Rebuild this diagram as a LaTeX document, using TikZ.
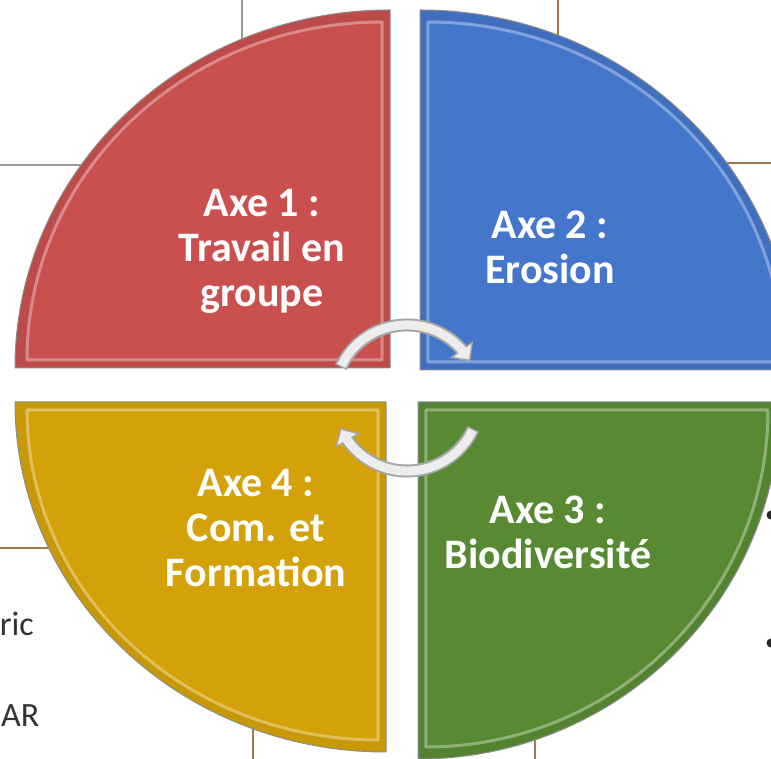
\documentclass[tikz,border=0pt]{standalone}
\usepackage{fontspec}
\setmainfont{Carlito}
\usetikzlibrary{arrows.meta,bending}

\definecolor{axered}{RGB}{201,80,78}
\definecolor{axeblue}{RGB}{68,118,204}
\definecolor{axegreen}{RGB}{88,138,52}
\definecolor{axegold}{RGB}{212,162,8}
\definecolor{gridgray}{RGB}{150,150,150}
\definecolor{gridbrown}{RGB}{165,120,75}

\tikzset{
  axelabel/.style={text=white, align=center, inner sep=0pt,
    font=\bfseries\fontsize{42}{45}\selectfont},
  sidetext/.style={text=black!80, inner sep=0pt,
    font=\fontsize{34}{40}\selectfont},
  gridline/.style={line width=1.2pt},
  cyclearrow/.style={draw=black!35, line width=13pt,
    -{Triangle[length=15pt, width=28pt]}},
  cyclecore/.style={draw=black!7, line width=9pt, shorten >=2.5pt, shorten <=1.5pt,
    -{Triangle[length=11pt, width=21pt]}},
}

\begin{document}
\begin{tikzpicture}[x=1pt,y=1pt,line join=round]
\useasboundingbox (0,0) rectangle (771,759);
\clip (0,0) rectangle (771,759);
\fill[white] (0,0) rectangle (771,759);
%% table lines behind
\draw[gridline,draw=gridgray] (242,759) -- (242,700);
\draw[gridline,draw=gridgray] (0,594) -- (100,594);
\draw[gridline,draw=gridbrown] (558,759) -- (558,700);
\draw[gridline,draw=gridbrown] (690,596) -- (771,596);
\draw[gridline,draw=gridbrown] (0,211) -- (70,211);
\draw[gridline,draw=gridbrown] (253,0) -- (253,40);
\draw[gridline,draw=gridbrown] (535,0) -- (535,30);
%% the four quarters
\foreach \col/\cx/\cy/\a/\rx/\ry in {axered/390/391/90/375/358,
    axeblue/420/389/0/375/360, axegold/386/357/180/371/350,
    axegreen/418/357/270/362/357}{
  \filldraw[fill=\col!94!black, draw=black!45, line width=1pt]
    (\cx,\cy) -- ++({\rx*cos(\a)},{\ry*sin(\a)})
    arc[start angle=\a, delta angle=90, x radius=\rx, y radius=\ry] -- cycle;
  \filldraw[fill=\col, draw=\col!55!white, draw opacity=0.75, line width=3pt]
    ([shift={(\a+45:11.3)}]\cx,\cy) -- ++({(\rx-20)*cos(\a)},{(\ry-20)*sin(\a)})
    arc[start angle=\a, delta angle=90, x radius=\rx-20, y radius=\ry-20] -- cycle;
}
%% cycle arrows
\coordinate (hub) at (407,361);
\draw[cyclearrow] ([shift={(155:73)}]hub) arc[start angle=155, end angle=30, radius=73];
\draw[cyclecore] ([shift={(155:73)}]hub) arc[start angle=155, end angle=30, radius=73];
\draw[cyclearrow] ([shift={(-25:73)}]hub) arc[start angle=-25, end angle=-156, radius=73];
\draw[cyclecore] ([shift={(-25:73)}]hub) arc[start angle=-25, end angle=-156, radius=73];
%% labels
\node[axelabel] (axe1) at (262,508) {Axe 1 :\\Travail en\\groupe};
\node[axelabel] (axe2) at (550,512) {Axe 2 :\\Erosion};
\node[axelabel] (axe3) at (548,227) {Axe 3 :\\Biodiversité};
\node[axelabel] (axe4) at (256,231) {Axe 4 :\\Com. et\\Formation};
%% text of the page behind
\node[sidetext,anchor=base east] (ric) at (34,123) {ric};
\node[sidetext,anchor=base west] (ar) at (1,32) {AR};
\fill[black!85] (771,244) circle (4.5);
\fill[black!85] (771,116) circle (4.5);
\end{tikzpicture}
\end{document}
